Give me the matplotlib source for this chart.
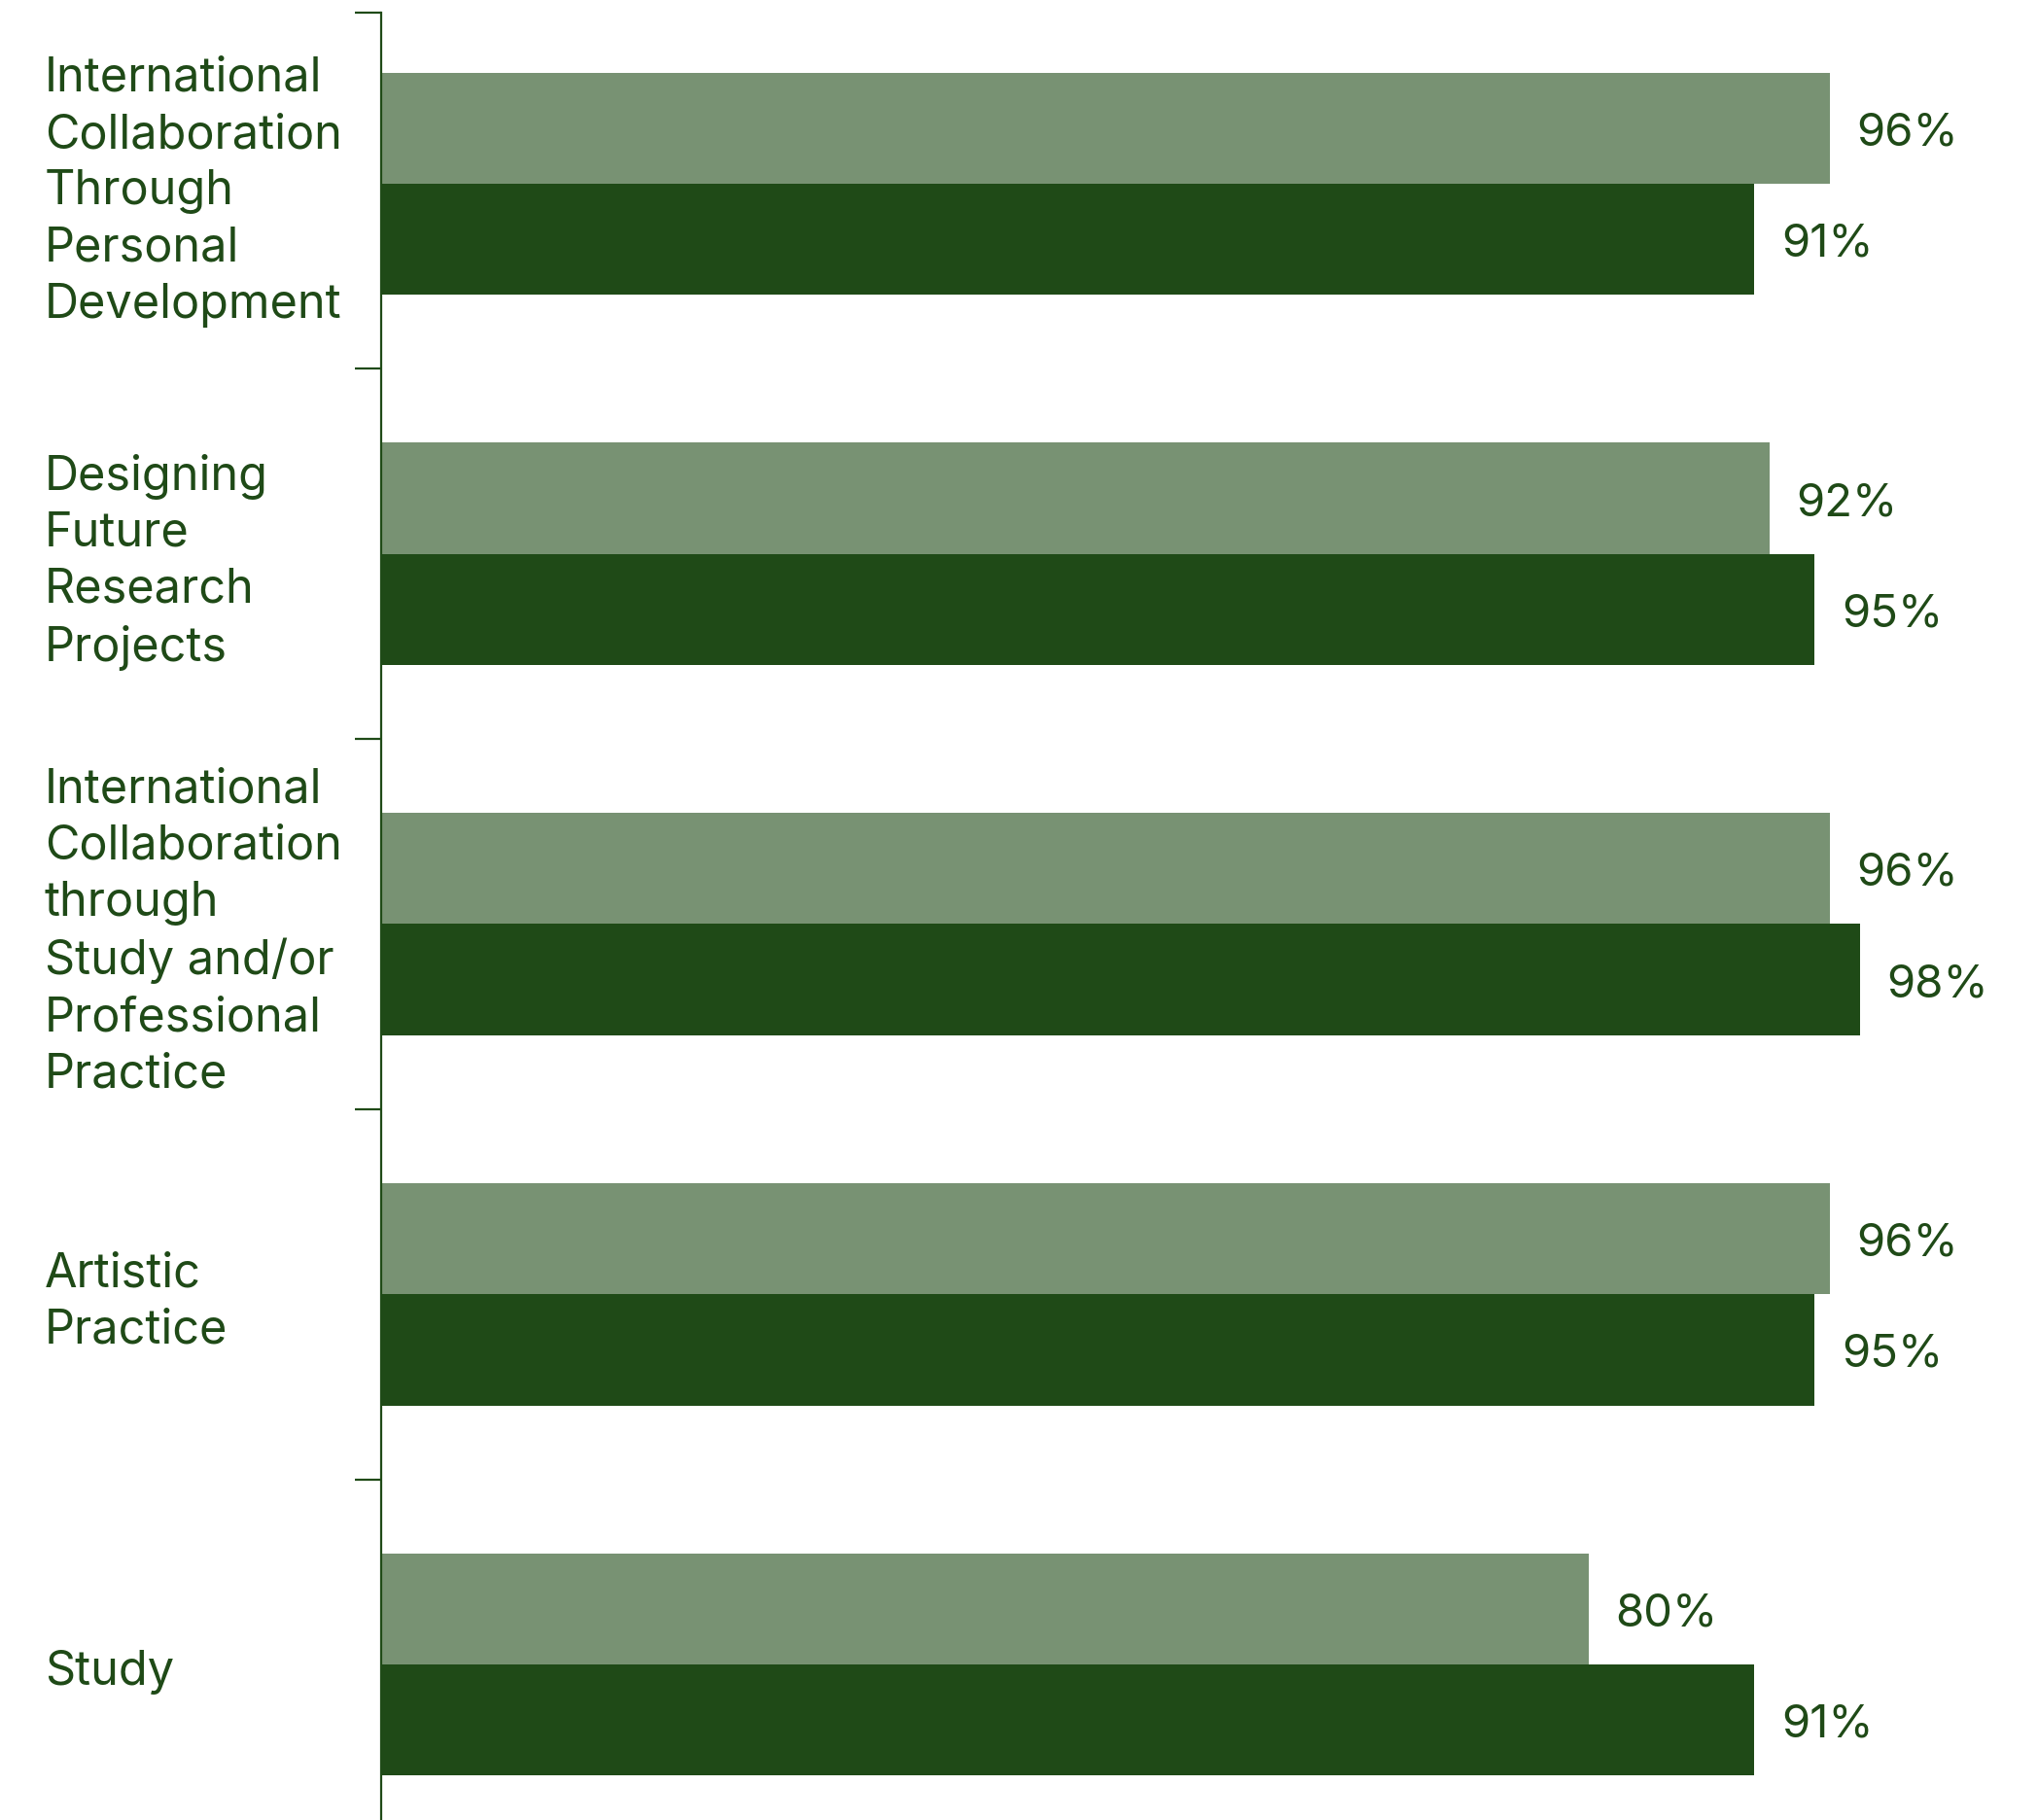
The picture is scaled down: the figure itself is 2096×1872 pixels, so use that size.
import numpy as np
import matplotlib
matplotlib.use("Agg")
import matplotlib.pyplot as plt
from matplotlib.transforms import blended_transform_factory

plt.rcParams['font.family'] = ['Inter', 'DejaVu Sans']

categories = [
    "International\nCollaboration\nThrough\nPersonal\nDevelopment",
    "Designing\nFuture\nResearch\nProjects",
    "International\nCollaboration\nthrough\nStudy and/or\nProfessional\nPractice",
    "Artistic\nPractice",
    "Study",
]
light_vals = [96, 92, 96, 96, 80]
dark_vals = [91, 95, 98, 95, 91]

light_col = "#789273"
dark_col = "#1f4a17"
text_col = "#1f4a17"

W, H = 2096, 1872
fig = plt.figure(figsize=(W / 100, H / 100), dpi=100)
ax = fig.add_axes([392 / W, 0, 1552 / W, 1 - 13 / H])

y = np.arange(len(categories))
h = 0.3
b1 = ax.barh(y - h / 2, light_vals, height=h, color=light_col, linewidth=0)
b2 = ax.barh(y + h / 2, dark_vals, height=h, color=dark_col, linewidth=0)

for bars, vals in ((b1, light_vals), (b2, dark_vals)):
    for bar, v in zip(bars, vals):
        ax.annotate(f"{v}%", (v, bar.get_y() + bar.get_height() / 2),
                    xytext=(20, -4), textcoords="offset points",
                    va="center", ha="left", fontsize=34, color=text_col,
                    annotation_clip=False)

ax.set_xlim(0, 100)
ax.set_ylim(4.42, -0.462)

# category labels, left aligned at a fixed figure x
tr = blended_transform_factory(fig.transFigure, ax.transData)
for yi, lab in zip(y, categories):
    ax.annotate(lab, (46 / W, yi), xycoords=tr, xytext=(0, -6),
                textcoords="offset points", ha="left", va="center",
                fontsize=35, color=text_col, linespacing=1.34,
                annotation_clip=False)

ax.set_yticks([-0.462, 0.5, 1.5, 2.5, 3.5])
ax.set_yticklabels([])
ax.set_xticks([])
ax.tick_params(axis="y", direction="out", length=19.5, width=1.6, color=text_col)
for s in ("top", "right", "bottom"):
    ax.spines[s].set_visible(False)
ax.spines["left"].set_color(text_col)
ax.spines["left"].set_linewidth(1.6)

fig.savefig("out.png", dpi=100)
